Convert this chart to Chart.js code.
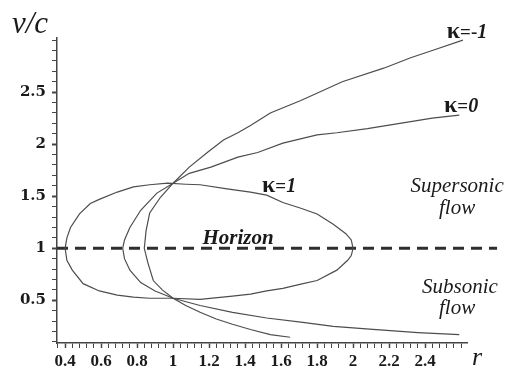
<!DOCTYPE html>
<html>
<head>
<meta charset="utf-8">
<script src="https://cdn.jsdelivr.net/npm/chart.js@4.4.1/dist/chart.umd.min.js"></script>
<style>
  html, body { margin: 0; padding: 0; background: #fff; }
  #wrap { width: 508px; height: 372px; position: relative; }
</style>
</head>
<body>
<div id="wrap"><canvas id="flowChart"></canvas></div>
<script>
// kappa = 1 : closed loop through both critical points
const k1R = [0.40, 0.41, 0.43, 0.48, 0.54, 0.59, 0.69, 0.78, 0.87, 0.97, 1.07, 1.15, 1.30, 1.43, 1.52, 1.61, 1.71, 1.80, 1.89, 1.96, 1.99, 2.00,
             1.99, 1.97, 1.91, 1.80, 1.71, 1.61, 1.52, 1.43, 1.33, 1.15, 1.00, 0.87, 0.78, 0.69, 0.59, 0.50, 0.44, 0.41, 0.40];
const k1V = [1.00, 1.10, 1.20, 1.33, 1.43, 1.47, 1.54, 1.59, 1.61, 1.625, 1.615, 1.61, 1.57, 1.54, 1.51, 1.44, 1.385, 1.33, 1.23, 1.14, 1.08, 1.00,
             0.93, 0.885, 0.79, 0.69, 0.655, 0.615, 0.59, 0.56, 0.54, 0.51, 0.52, 0.52, 0.53, 0.55, 0.59, 0.66, 0.79, 0.885, 1.00];

// kappa = 0
const k0R = [2.59, 2.44, 2.26, 2.08, 1.91, 1.80, 1.61, 1.47, 1.36, 1.21, 1.09, 1.00,
             0.91, 0.82, 0.76, 0.73, 0.72, 0.73, 0.76, 0.82, 0.90, 1.00,
             1.15, 1.33, 1.52, 1.71, 1.89, 2.11, 2.36, 2.59];
const k0V = [2.28, 2.25, 2.20, 2.15, 2.11, 2.09, 2.01, 1.92, 1.875, 1.78, 1.72, 1.625,
             1.53, 1.365, 1.20, 1.08, 1.00, 0.90, 0.79, 0.67, 0.59, 0.52,
             0.45, 0.385, 0.33, 0.29, 0.25, 0.22, 0.19, 0.17];

// kappa = -1
const km1R = [2.61, 2.44, 2.32, 2.17, 1.94, 1.71, 1.54, 1.43, 1.36, 1.28, 1.19, 1.09, 1.00,
              0.93, 0.87, 0.85, 0.84, 0.86, 0.89, 0.94, 1.00,
              1.07, 1.15, 1.24, 1.33, 1.43, 1.54, 1.65];
const km1V = [3.00, 2.90, 2.83, 2.73, 2.60, 2.42, 2.30, 2.18, 2.11, 2.04, 1.92, 1.78, 1.625,
              1.49, 1.34, 1.17, 1.00, 0.86, 0.69, 0.60, 0.52,
              0.45, 0.385, 0.32, 0.27, 0.22, 0.17, 0.145];

// sonic line v = c
const horizonR = [0.355, 2.8];
const horizonV = [1, 1];

const xTickLabels = ["0.4", "0.6", "0.8", "1", "1.2", "1.4", "1.6", "1.8", "2", "2.2", "2.4"];
const yTickLabels = ["0.5", "1", "1.5", "2", "2.5"];

const zip = (rs, vs) => rs.map((r, i) => ({ x: r, y: vs[i] }));
const near = (a, b) => Math.abs(a - b) < 1e-6;

// minor ticks: every 0.04 on r, every 0.1 on v
const xMinor = [];
for (let i = 9; i <= 65; i++) xMinor.push(+(i * 0.04).toFixed(2));
const yMinor = [];
for (let i = 1; i <= 30; i++) yMinor.push(+(i * 0.1).toFixed(1));

const curve = (pts) => ({
    data: pts,
    showLine: true,
    borderColor: '#4d4d4d',
    borderWidth: 1.2,
    pointRadius: 0,
    tension: 0
});

const flowLabels = {
    id: 'flowLabels',
    afterDraw(chart) {
        const { ctx, chartArea, scales: { x, y } } = chart;
        ctx.save();
        ctx.fillStyle = '#1a1a1a';
        ctx.textBaseline = 'alphabetic';

        // draws pieces of text in different fonts, centered as one
        const put = (parts, r, v) => {
            let w = 0;
            parts.forEach(p => { ctx.font = p[1]; w += ctx.measureText(p[0]).width; });
            let px = x.getPixelForValue(r) - w / 2;
            const py = y.getPixelForValue(v) + 6;
            ctx.textAlign = 'left';
            parts.forEach(p => {
                ctx.font = p[1];
                ctx.fillText(p[0], px, py);
                px += ctx.measureText(p[0]).width;
            });
        };

        const kk = 'bold 24px "Liberation Serif"';
        const kb = 'bold 19px "Liberation Serif"';
        const ki = 'italic bold 20px "Liberation Serif"';
        put([['κ', kk], ['=-', kb], ['1', ki]], 2.633, 3.077);
        put([['κ', kk], ['=', kb], ['0', ki]], 2.60, 2.365);
        put([['κ', kk], ['=', kb], ['1', ki]], 1.589, 1.596);
        put([['Horizon', 'italic bold 21px "Liberation Serif"']], 1.361, 1.096);

        const fl = 'italic 21px "Liberation Serif"';
        put([['Supersonic', fl]], 2.578, 1.596);
        put([['flow', fl]], 2.578, 1.385);
        put([['Subsonic', fl]], 2.594, 0.625);
        put([['flow', fl]], 2.578, 0.423);

        // axis names
        ctx.textAlign = 'left';
        ctx.font = 'italic 31px "Liberation Serif"';
        ctx.fillText('v/c', chartArea.left - 45, chartArea.top - 5);
        ctx.font = 'italic 26px "Liberation Serif"';
        ctx.fillText('r', chartArea.right + 5, chartArea.bottom + 22);
        ctx.restore();
    }
};

new Chart(document.getElementById('flowChart'), {
    type: 'scatter',
    data: {
        datasets: [
            curve(zip(k1R, k1V)),
            curve(zip(k0R, k0V)),
            curve(zip(km1R, km1V)),
            {
                data: zip(horizonR, horizonV),
                showLine: true,
                borderColor: '#2e2e2e',
                borderWidth: 3,
                borderDash: [11, 7],
                pointRadius: 0,
                clip: false
            }
        ]
    },
    options: {
        responsive: true,
        maintainAspectRatio: false,
        animation: false,
        layout: { padding: { top: 38, right: 41, left: 0, bottom: 0 } },
        plugins: {
            legend: { display: false },
            tooltip: { enabled: false }
        },
        scales: {
            x: {
                type: 'linear',
                min: 0.355,
                max: 2.633,
                afterBuildTicks: s => { s.ticks = xMinor.map(v => ({ value: v })); },
                afterFit: s => { s.height = 29; },
                ticks: {
                    autoSkip: false,
                    maxRotation: 0,
                    padding: 3,
                    color: '#1a1a1a',
                    font: { family: 'Liberation Serif', weight: 'bold', size: 17 },
                    callback: v => xTickLabels.find(t => near(parseFloat(t), v)) || ''
                },
                grid: {
                    drawOnChartArea: false,
                    tickLength: 5,
                    tickColor: '#444',
                    tickWidth: c => xTickLabels.some(t => near(parseFloat(t), c.tick.value)) ? 1.5 : 1
                },
                border: { color: '#444', width: 1.5 }
            },
            y: {
                type: 'linear',
                min: 0.09,
                max: 3.02,
                afterBuildTicks: s => { s.ticks = yMinor.map(v => ({ value: v })); },
                afterFit: s => { s.width = 57; },
                ticks: {
                    autoSkip: false,
                    padding: 6,
                    color: '#1a1a1a',
                    font: { family: 'DejaVu Serif', weight: 'bold', size: 15 },
                    callback: v => yTickLabels.find(t => near(parseFloat(t), v)) || ''
                },
                grid: {
                    drawOnChartArea: false,
                    tickLength: 5,
                    tickColor: '#444',
                    tickWidth: c => yTickLabels.some(t => near(parseFloat(t), c.tick.value)) ? 2 : 1
                },
                border: { color: '#444', width: 1.5 }
            }
        }
    },
    plugins: [flowLabels]
});
</script>
</body>
</html>
